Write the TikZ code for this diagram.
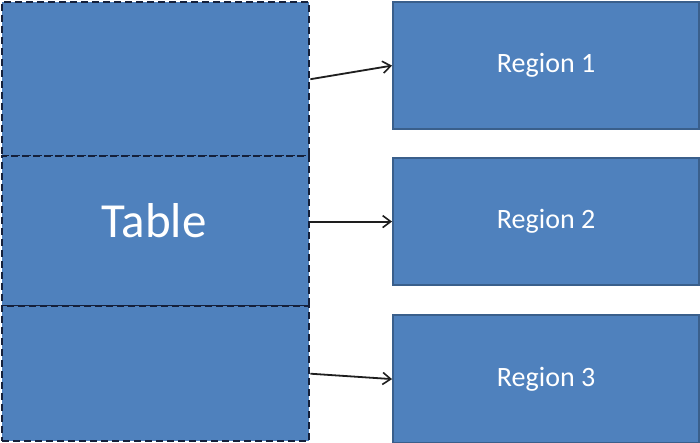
\documentclass[tikz,border=0pt]{standalone}
\usepackage{fontspec}
\setmainfont{Carlito}
\usetikzlibrary{arrows.meta}
\definecolor{boxfill}{HTML}{4F81BD}
\definecolor{boxedge}{HTML}{3A5F8B}
\definecolor{dashcol}{HTML}{15203A}
\definecolor{arrowcol}{HTML}{1E1E1E}
\tikzset{
  tablepart/.style={rectangle, fill=boxfill, draw=dashcol, line width=2.4pt, dash pattern=on 7pt off 4pt, inner sep=0pt, anchor=north west},
  regionbox/.style={rectangle, fill=boxfill, draw=boxedge, line width=2.2pt, inner sep=0pt, anchor=north west, minimum width=306pt, text=white, font=\fontsize{28}{34}\selectfont},
  link/.style={draw=arrowcol, line width=1.8pt, -{Straight Barb[length=8pt,width=12pt,line width=1.6pt]}}
}
\begin{document}
\begin{tikzpicture}[x=1pt,y=-1pt]
\useasboundingbox (0,0) rectangle (700,442);
\fill[white] (0,0) rectangle (700,442);
\node[tablepart, minimum width=307pt, minimum height=154pt] (t1) at (1,1) {};
\node[tablepart, minimum width=307pt, minimum height=150pt] (t2) at (1,155) {};
\node[tablepart, minimum width=307pt, minimum height=135pt] (t3) at (1,305) {};
\node[text=white, font=\fontsize{49}{59}\selectfont] (tlabel) at (154,221) {Table};
\node[regionbox, minimum height=127pt] (r1) at (392,1) {Region 1};
\node[regionbox, minimum height=127pt] (r2) at (392,157) {Region 2};
\node[regionbox, minimum height=128pt] (r3) at (392,314) {Region 3};
\draw[link] (t1.east) -- (r1.west);
\draw[link] (t2.east |- r2.west) -- (r2.west);
\draw[link] (t3.east) -- (r3.west);
\end{tikzpicture}
\end{document}
